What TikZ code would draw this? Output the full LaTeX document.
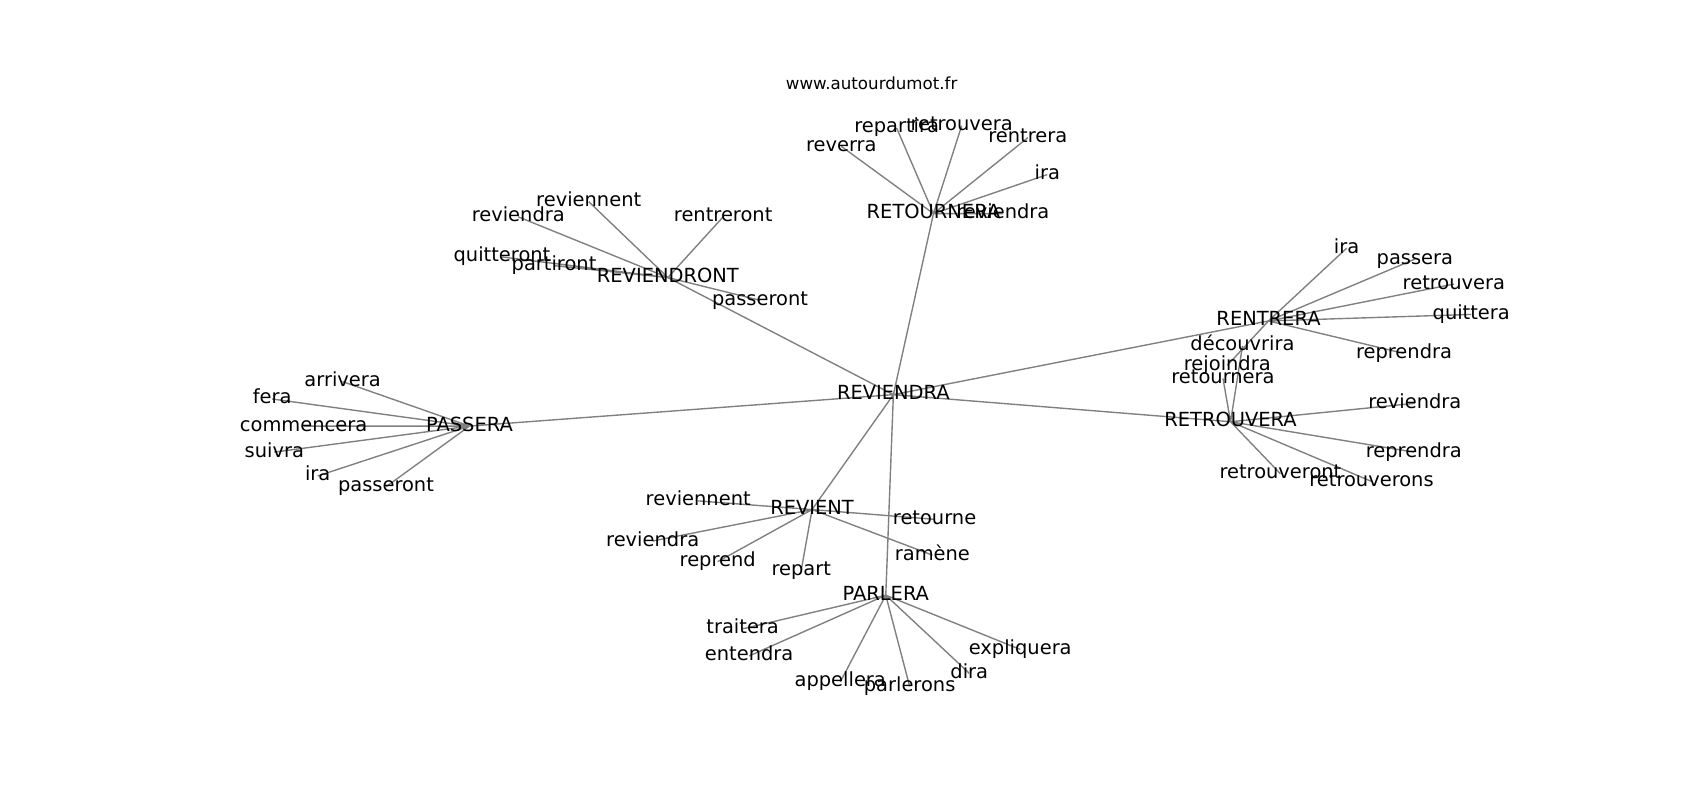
\documentclass[tikz,border=0pt]{standalone}
\usepackage{fontspec}
\setmainfont{DejaVu Sans}
\usetikzlibrary{backgrounds}
\tikzstyle{wd}=[inner sep=0, text height=10.6pt, text depth=3.4pt,
		font=\fontsize{14}{17}\selectfont]
\tikzstyle{ttl}=[inner sep=0, font=\fontsize{12}{14}\selectfont]
\tikzstyle{ed}=[draw=black!50, line width=1pt]

\begin{document}
\begin{tikzpicture}[x=0.7806pt, y=-0.7806pt]
    \useasboundingbox (-1,-1) rectangle (1567,737);
    \node[ttl] (site) at (803,76) {www.autourdumot.fr};
    % centre
    \node[wd] (rev) at (823,363) {REVIENDRA};
    % retournera
    \node[wd] (ret) at (860,196) {RETOURNERA};
    \node[wd] (ret1) at (775,134) {reverra};
    \node[wd] (ret2) at (826,117) {repartira};
    \node[wd] (ret3) at (886,115) {retrouvera};
    \node[wd] (ret4) at (947,126) {rentrera};
    \node[wd] (ret5) at (965,160) {ira};
    \node[wd] (ret6) at (924,196) {reviendra};
    % reviendront
    \node[wd] (rvt) at (615,255) {REVIENDRONT};
    \node[wd] (rvt1) at (542,185) {reviennent};
    \node[wd] (rvt2) at (477,199) {reviendra};
    \node[wd] (rvt3) at (666,199) {rentreront};
    \node[wd] (rvt4) at (462,236) {quitteront};
    \node[wd] (rvt5) at (510,244) {partiront};
    \node[wd] (rvt6) at (700,276) {passeront};
    % passera
    \node[wd] (pas) at (432,392) {PASSERA};
    \node[wd] (pas1) at (315,351) {arrivera};
    \node[wd] (pas2) at (250,367) {fera};
    \node[wd] (pas3) at (279,392) {commencera};
    \node[wd] (pas4) at (252,416) {suivra};
    \node[wd] (pas5) at (292,438) {ira};
    \node[wd] (pas6) at (355,448) {passeront};
    % revient
    \node[wd] (rvn) at (748,469) {REVIENT};
    \node[wd] (rvn1) at (643,461) {reviennent};
    \node[wd] (rvn2) at (861,478) {retourne};
    \node[wd] (rvn3) at (601,498) {reviendra};
    \node[wd] (rvn4) at (661,517) {reprend};
    \node[wd] (rvn5) at (738,525) {repart};
    \node[wd] (rvn6) at (859,511) {ramène};
    % parlera
    \node[wd] (par) at (816,548) {PARLERA};
    \node[wd] (par1) at (684,579) {traitera};
    \node[wd] (par2) at (690,604) {entendra};
    \node[wd] (par3) at (774,628) {appellera};
    \node[wd] (par4) at (838,632) {parlerons};
    \node[wd] (par5) at (893,620) {dira};
    \node[wd] (par6) at (940,598) {expliquera};
    % rentrera
    \node[wd] (ren) at (1169,295) {RENTRERA};
    \node[wd] (ren1) at (1241,228) {ira};
    \node[wd] (ren2) at (1304,238) {passera};
    \node[wd] (ren3) at (1340,261) {retrouvera};
    \node[wd] (ren4) at (1356,289) {quittera};
    \node[wd] (ren5) at (1294,325) {reprendra};
    \node[wd] (ren6) at (1131,336) {rejoindra};
    % retrouvera
    \node[wd] (rtv) at (1134,388) {RETROUVERA};
    \node[wd] (rtv1) at (1145,318) {découvrira};
    \node[wd] (rtv2) at (1127,348) {retournera};
    \node[wd] (rtv3) at (1304,371) {reviendra};
    \node[wd] (rtv4) at (1303,416) {reprendra};
    \node[wd] (rtv5) at (1180,436) {retrouveront};
    \node[wd] (rtv6) at (1264,443) {retrouverons};

    \begin{scope}[on background layer]
        \draw[ed] (rev.center) -- (ret.center) (rev.center) -- (rvt.center)
            (rev.center) -- (pas.center) (rev.center) -- (rvn.center)
            (rev.center) -- (par.center) (rev.center) -- (ren.center)
            (rev.center) -- (rtv.center);
        \draw[ed] (ret.center) -- (ret1.center) (ret.center) -- (ret2.center)
            (ret.center) -- (ret3.center) (ret.center) -- (ret4.center)
            (ret.center) -- (ret5.center) (ret.center) -- (ret6.center);
        \draw[ed] (rvt.center) -- (rvt1.center) (rvt.center) -- (rvt2.center)
            (rvt.center) -- (rvt3.center) (rvt.center) -- (rvt4.center)
            (rvt.center) -- (rvt5.center) (rvt.center) -- (rvt6.center);
        \draw[ed] (pas.center) -- (pas1.center) (pas.center) -- (pas2.center)
            (pas.center) -- (pas3.center) (pas.center) -- (pas4.center)
            (pas.center) -- (pas5.center) (pas.center) -- (pas6.center);
        \draw[ed] (rvn.center) -- (rvn1.center) (rvn.center) -- (rvn2.center)
            (rvn.center) -- (rvn3.center) (rvn.center) -- (rvn4.center)
            (rvn.center) -- (rvn5.center) (rvn.center) -- (rvn6.center);
        \draw[ed] (par.center) -- (par1.center) (par.center) -- (par2.center)
            (par.center) -- (par3.center) (par.center) -- (par4.center)
            (par.center) -- (par5.center) (par.center) -- (par6.center);
        \draw[ed] (ren.center) -- (ren1.center) (ren.center) -- (ren2.center)
            (ren.center) -- (ren3.center) (ren.center) -- (ren4.center)
            (ren.center) -- (ren5.center) (ren.center) -- (ren6.center);
        \draw[ed] (rtv.center) -- (rtv1.center) (rtv.center) -- (rtv2.center)
            (rtv.center) -- (rtv3.center) (rtv.center) -- (rtv4.center)
            (rtv.center) -- (rtv5.center) (rtv.center) -- (rtv6.center);
    \end{scope}
\end{tikzpicture}
\end{document}
